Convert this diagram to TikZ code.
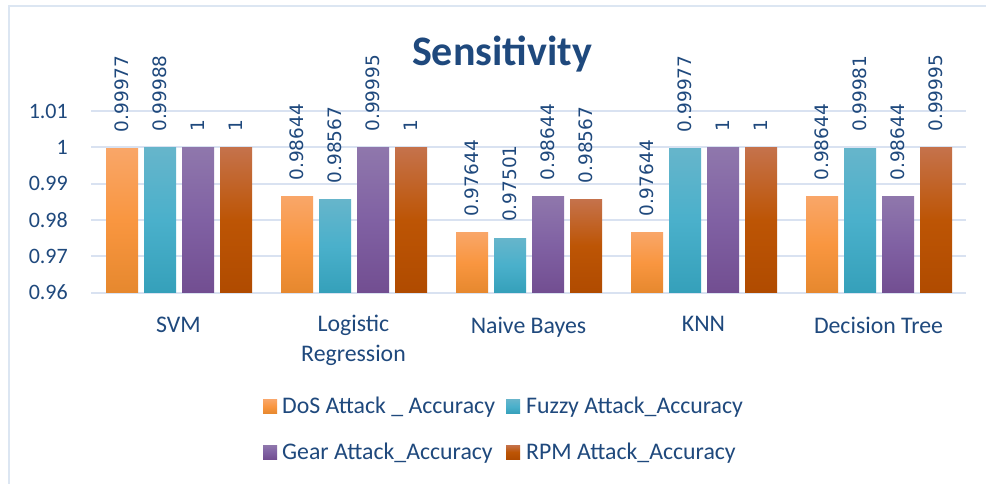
\documentclass[tikz,border=0pt]{standalone}
\usepackage{fontspec}
\setmainfont{Carlito}
\newfontfamily\valfont{DejaVu Sans}
\definecolor{txt}{HTML}{1F497D}
\definecolor{gridc}{HTML}{D9E2F1}
\definecolor{framec}{HTML}{DCE6F2}
\definecolor{dosT}{RGB}{249,166,104}
\definecolor{dosM}{RGB}{249,150,64}
\definecolor{dosB}{RGB}{230,136,46}
\definecolor{fuzT}{RGB}{102,181,203}
\definecolor{fuzM}{RGB}{74,176,203}
\definecolor{fuzB}{RGB}{53,160,186}
\definecolor{gearT}{RGB}{143,119,172}
\definecolor{gearM}{RGB}{128,97,163}
\definecolor{gearB}{RGB}{114,78,145}
\definecolor{rpmT}{RGB}{197,114,75}
\definecolor{rpmM}{RGB}{189,85,5}
\definecolor{rpmB}{RGB}{176,75,0}
\tikzset{
  dosbar/.style={top color=dosT, bottom color=dosB, middle color=dosM},
  fuzbar/.style={top color=fuzT, bottom color=fuzB, middle color=fuzM},
  gearbar/.style={top color=gearT, bottom color=gearB, middle color=gearM},
  rpmbar/.style={top color=rpmT, bottom color=rpmB, middle color=rpmM},
  gridline/.style={draw=gridc, line width=2pt},
  ticklab/.style={text=txt, font=\fontsize{22}{26}\selectfont, inner sep=0pt, anchor=east},
  vallab/.style={text=txt, font=\valfont\fontsize{18.5}{22}\selectfont, inner sep=0pt, rotate=90, anchor=west},
  catlab/.style={text=txt, font=\fontsize{23.8}{30}\selectfont, inner sep=0pt, align=center, anchor=north},
  leglab/.style={text=txt, font=\fontsize{23.8}{28}\selectfont, inner sep=0pt, anchor=base west},
  legsq/.style={minimum size=14pt, inner sep=0pt},
}
\newcommand\mkbar[4]{%
  \pgfmathsetmacro\xl{#1}%
  \pgfmathsetmacro\xr{#1+32}%
  \pgfmathsetmacro\xc{#1+16}%
  \pgfmathsetmacro\ytop{147.5-(#2-1)*3625}%
  \pgfmathsetmacro\ylab{\ytop-16}%
  \path[#3] (\xl,292.5) rectangle (\xr,\ytop);%
  \node[vallab] (#4) at (\xc,\ylab) {#2};%
}
\begin{document}
\begin{tikzpicture}[x=1pt,y=-1pt]
\useasboundingbox (0,0) rectangle (986,484);
\fill[white] (0,0) rectangle (986,484);
% frame
\draw[draw=framec, line width=2pt] (8.5,484) -- (8.5,6.5) -- (986,6.5);
% title
\node[text=txt, font=\bfseries\fontsize{42}{48}\selectfont, inner sep=0pt, anchor=base] (title) at (502,66) {Sensitivity};
% grid and ticks
\foreach \yy/\lab [count=\i] in {111.25/1.01, 147.5/1, 183.75/0.99, 220/0.98, 256.25/0.97, 292.5/0.96} {
  \draw[gridline] (91,\yy) -- (966,\yy);
  \node[ticklab] (tick\i) at (68,\yy) {\lab};
}
% bars
\foreach \va/\vb/\vc/\vd [count=\i from 0] in {
  0.99977/0.99988/1/1,
  0.98644/0.98567/0.99995/1,
  0.97644/0.97501/0.98644/0.98567,
  0.97644/0.99977/1/1,
  0.98644/0.99981/0.98644/0.99995} {
  \pgfmathsetmacro\xo{106+175*\i}
  \pgfmathsetmacro\xoa{\xo+38}
  \pgfmathsetmacro\xob{\xo+76}
  \pgfmathsetmacro\xoc{\xo+114}
  \mkbar{\xo}{\va}{dosbar}{va\i}
  \mkbar{\xoa}{\vb}{fuzbar}{vb\i}
  \mkbar{\xob}{\vc}{gearbar}{vc\i}
  \mkbar{\xoc}{\vd}{rpmbar}{vd\i}
}
% category labels
\node[catlab] (c0) at (178.5,316.5) {SVM};
\node[catlab] (c1) at (353.5,315) {Logistic\\Regression};
\node[catlab] (c2) at (528.5,316.5) {Naive Bayes};
\node[catlab] (c3) at (703.5,316.5) {KNN};
\node[catlab] (c4) at (878.5,316.5) {Decision Tree};
% legend
\node[legsq, dosbar] (ls1) at (270,406.5) {};
\node[leglab] (l1) at (282,413) {DoS Attack \_ Accuracy};
\node[legsq, fuzbar] (ls2) at (513,406.5) {};
\node[leglab] (l2) at (526,413) {Fuzzy Attack\_Accuracy};
\node[legsq, gearbar] (ls3) at (270,452) {};
\node[leglab] (l3) at (282,459) {Gear Attack\_Accuracy};
\node[legsq, rpmbar] (ls4) at (513,452) {};
\node[leglab] (l4) at (526,459) {RPM Attack\_Accuracy};
\end{tikzpicture}
\end{document}
